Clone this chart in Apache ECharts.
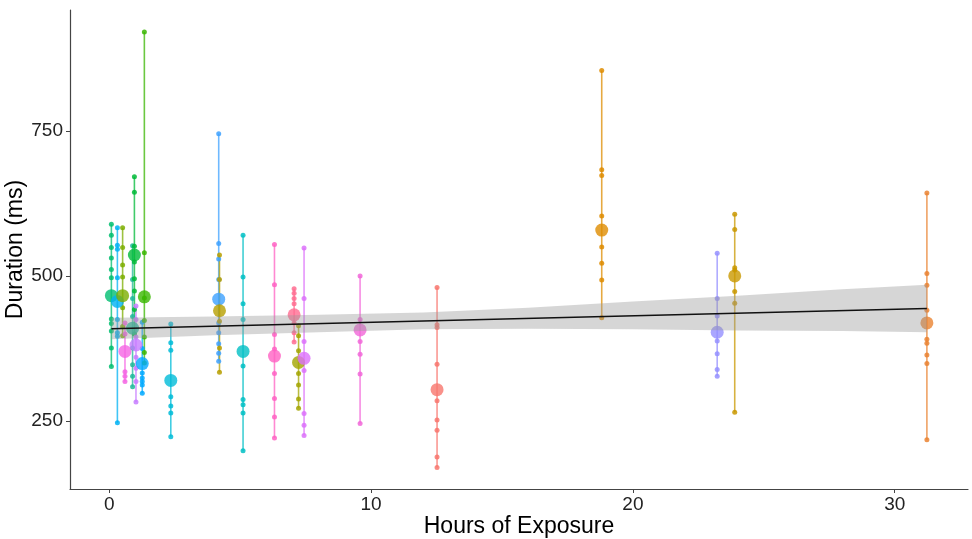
<!DOCTYPE html>
<html>
<head>
<meta charset="utf-8">
<script src="https://cdn.jsdelivr.net/npm/echarts@6/dist/echarts.min.js"></script>
<style>
    html, body { margin: 0; padding: 0; background: #fff; }
    #chart { width: 972px; height: 539px; }
</style>
</head>
<body>
<div id="chart"></div>
<script>
// one entry per participant: hours of exposure, colour, single trials, mean
const hours = [0.08, 0.31, 0.51, 0.60, 0.89, 0.96, 1.02, 1.26, 1.34, 2.35, 4.18, 4.21, 5.11, 6.31, 7.06, 7.23, 7.44, 9.58, 12.52, 18.81, 23.22, 23.89, 31.23]
const colors = [
    '#00BE70', '#00B2F3', '#7CAE00', '#F564E3', '#1EB99A', '#00BA38', '#C77CFF', '#00A9FF',
    '#39B600', '#00BCD8', '#3DA1FF', '#B79F00', '#00BFC4', '#FF61C3', '#FF6C91', '#A3A500',
    '#DC71FA', '#F166D8', '#F8766D', '#DE8C00', '#9590FF', '#C99800', '#EA8331',
]
const durations = [
    [589, 570, 549, 531, 511, 497, 426, 418, 405, 376, 344],
    [583, 553, 546, 497, 425, 402, 396, 247],
    [583, 549, 519, 498, 445, 413, 397],
    [419, 400, 335, 327, 318],
    [552, 494, 461, 430, 376, 347, 327, 309],
    [671, 644, 551, 524, 495, 474, 442, 400],
    [448, 425, 395, 360, 341, 318, 283],
    [420, 375, 333, 324, 318, 312, 298],
    [920, 540, 462, 423, 395, 368, 350],
    [417, 385, 372, 292, 276, 264, 223],
    [745, 556, 529, 494, 419, 402, 383, 367, 353],
    [536, 494, 422, 376, 334],
    [570, 498, 452, 425, 345, 287, 278, 264, 199],
    [554, 485, 399, 374, 332, 289, 257, 221],
    [478, 470, 461, 452, 419, 402, 386],
    [414, 397, 371, 332, 312, 288, 272],
    [548, 461, 387, 337, 263, 243, 225],
    [500, 425, 387, 365, 331, 246],
    [480, 416, 411, 348, 285, 252, 234, 188, 170],
    [854, 683, 673, 603, 550, 522, 493, 428],
    [539, 461, 431, 388, 366, 339, 327],
    [606, 580, 514, 510, 473, 453, 265],
    [643, 504, 484, 441, 391, 384, 364, 349, 218],
]
const means = [466, 456, 466, 370, 410, 536, 381, 349, 464, 320, 460, 440, 370, 362, 433, 351, 358, 407, 304, 579, 403, 500, 419]

// linear fit and its confidence band
const fitHours = [0.08, 31.23]
const fitDuration = [409, 444]
const bandHours = [0.08, 4, 8, 12, 16, 20, 24, 28, 31.23]
const bandLow = [391, 398, 403, 408, 409, 408, 406, 405, 403]
const bandHigh = [428, 430, 433, 437, 445, 456, 466, 477, 485]

const xTicks = [0, 10, 20, 30]
const yTicks = [250, 500, 750]

const font = 'Liberation Sans, Arial, Helvetica, sans-serif'

var myChart = echarts.init(document.getElementById('chart'))

let series = []
hours.forEach((h, i) => {
    series.push({
        type: 'line',
        data: durations[i].map(v => [h, v]),
        symbol: 'circle',
        symbolSize: 5,
        color: colors[i],
        lineStyle: { width: 1.6, opacity: 0.75 },
        itemStyle: { opacity: 0.85 },
        z: 2,
    })
})
series.push({
    type: 'scatter',
    data: hours.map((h, i) => ({ value: [h, means[i]], itemStyle: { color: colors[i] } })),
    symbolSize: 13,
    z: 3,
})
series.push({
    type: 'custom',
    data: [[bandHours[0], bandLow[0]]],
    z: 4,
    silent: true,
    renderItem: (params, api) => {
        let pts = []
        bandHours.forEach((h, i) => pts.push(api.coord([h, bandHigh[i]])))
        for (let i = bandHours.length - 1; i >= 0; i--) {
            pts.push(api.coord([bandHours[i], bandLow[i]]))
        }
        return {
            type: 'polygon',
            shape: { points: pts },
            style: { fill: 'rgba(153,153,153,0.4)' },
        }
    },
})
series.push({
    type: 'line',
    data: fitHours.map((h, i) => [h, fitDuration[i]]),
    symbol: 'none',
    color: '#111',
    lineStyle: { width: 1.4 },
    z: 5,
})

let option = {
    animation: false,
    grid: { left: 70, right: 4, top: 10, bottom: 50, containLabel: false, outerBoundsMode: 'none' },
    xAxis: {
        type: 'value',
        min: -1.5,
        max: 32.8,
        name: 'Hours of Exposure',
        nameLocation: 'middle',
        nameGap: 26,
        nameMoveOverlap: false,
        nameTextStyle: { fontSize: 23, color: '#000', fontFamily: font },
        splitLine: { show: false },
        axisLine: { onZero: false, lineStyle: { color: '#444', width: 1.2 } },
        axisTick: { customValues: xTicks, length: 4, lineStyle: { color: '#444' } },
        axisLabel: { customValues: xTicks, fontSize: 19, color: '#222', margin: 6, fontFamily: font },
    },
    yAxis: {
        type: 'value',
        min: 133,
        max: 958,
        name: 'Duration (ms)',
        nameLocation: 'middle',
        nameGap: 43,
        nameMoveOverlap: false,
        nameTextStyle: { fontSize: 23, color: '#000', fontFamily: font },
        splitLine: { show: false },
        axisLine: { show: true, onZero: false, lineStyle: { color: '#444', width: 1.2 } },
        axisTick: { show: true, customValues: yTicks, length: 4, lineStyle: { color: '#444' } },
        axisLabel: { customValues: yTicks, fontSize: 19, color: '#222', margin: 7, fontFamily: font },
    },
    series: series,
}
myChart.setOption(option)
</script>
</body>
</html>
